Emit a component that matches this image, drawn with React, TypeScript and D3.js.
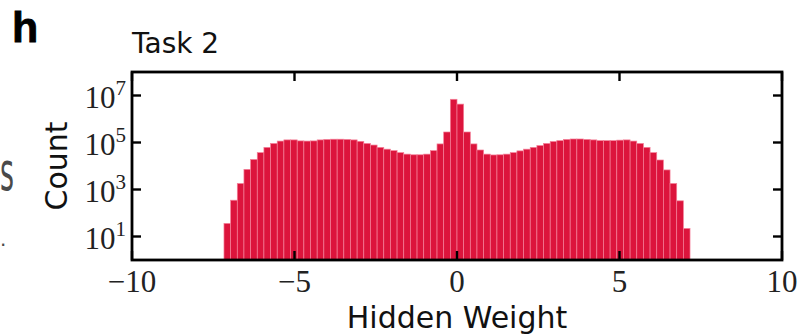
import React from "react";
import * as d3 from "d3";

// Histogram of hidden weights (Task 2): 70 bins spanning [-7.17, 7.17]
const binLo = -7.17;
const binHi = 7.17;
const counts: number[] = [
  36, 350, 1800, 7200, 19000, 37000, 62000, 91000, 115000, 129000,
  129000, 117000, 115000, 117000, 129000, 135000, 138000, 138000, 135000, 129000,
  112000, 91000, 78000, 62000, 52000, 45000, 37000, 32000, 30000, 30000,
  32000, 45000, 87000, 280000, 6900000, 4300000, 280000, 87000, 48000, 32000,
  29500, 30000, 32000, 37000, 44000, 52000, 62000, 74000, 91000, 110000,
  120000, 135000, 141000, 141000, 135000, 129000, 120000, 120000, 120000, 126000,
  129000, 115000, 91000, 62000, 37000, 18000, 6800, 1800, 330, 22,
];
const xTicks: number[] = [-10, -5, 0, 5, 10];
const xTickLabels: string[] = ["\u221210", "\u22125", "0", "5", "10"];
const yTicks: number[] = [1e1, 1e3, 1e5, 1e7];
const yTickExps: string[] = ["1", "3", "5", "7"];

const L = 132, R = 782, T = 72, B = 260;

export default function App() {
  const x = d3.scaleLinear().domain([-10, 10]).range([L, R]);
  const y = d3.scaleLog().domain([1, 1e8]).range([B, T]);
  const w = (binHi - binLo) / counts.length;
  const tickLen = 9;
  return (
    <svg width={800} height={336} style={{ position: "absolute", left: 0, top: 0, background: "#fff" }}>
      <rect x={0} y={0} width={800} height={336} fill="#fff" />
      {/* panel letter and neighbour remnants */}
      <text x={12} y={42} fontFamily="Liberation Sans, Arial, sans-serif" fontWeight="bold" fontSize={43} fill="#000" stroke="#000" strokeWidth={0.8}>h</text>
      <text x={0} y={190} fontFamily="DejaVu Sans, sans-serif" fontSize={54} fill="#4a4a4a" textLength={14} lengthAdjust="spacingAndGlyphs">s</text>
      <text x={0} y={246} fontFamily="DejaVu Sans, sans-serif" fontSize={20} fill="#4a4a4a">.</text>
      <text x={132} y={53} fontFamily="DejaVu Sans, sans-serif" fontSize={28} fill="#111">Task 2</text>
      {/* bars */}
      <g>
        {counts.map((c, i) => {
          const x0 = binLo + i * w;
          const x1 = x0 + w;
          return (
            <rect key={i} x={x(x0)} width={x(x1) - x(x0)} y={y(c)} height={y(1) - y(c)}
              fill="#dc143c" stroke="#f47f98" strokeWidth={0.7} />
          );
        })}
      </g>
      {/* ticks */}
      <g stroke="#000" strokeWidth={2.4}>
        {xTicks.map((t) => (
          <g key={"xt" + t}>
            <line x1={x(t)} x2={x(t)} y1={B} y2={B - tickLen} />
            <line x1={x(t)} x2={x(t)} y1={T} y2={T + tickLen} />
          </g>
        ))}
        {yTicks.map((t) => (
          <g key={"yt" + t}>
            <line x1={L} x2={L + tickLen} y1={y(t)} y2={y(t)} />
            <line x1={R} x2={R - tickLen} y1={y(t)} y2={y(t)} />
          </g>
        ))}
      </g>
      <rect x={L} y={T} width={R - L} height={B - T} fill="none" stroke="#000" strokeWidth={2.8} />
      {/* x tick labels */}
      {xTicks.map((t, i) => (
        <text key={"xl" + t} x={x(t)} y={292} textAnchor="middle"
          fontFamily="Liberation Serif, Times New Roman, serif" fontSize={31} fill="#222">{xTickLabels[i]}</text>
      ))}
      {/* y tick labels */}
      {yTicks.map((t, i) => (
        <text key={"yl" + t} x={126} y={y(t) + 12} textAnchor="end"
          fontFamily="Liberation Serif, Times New Roman, serif" fontSize={31} fill="#222">
          10<tspan fontSize={21} dy={-13}>{yTickExps[i]}</tspan>
        </text>
      ))}
      {/* axis labels */}
      <text x={457} y={328} textAnchor="middle" fontFamily="DejaVu Sans, sans-serif" fontSize={30} fill="#111">Hidden Weight</text>
      <text transform={`translate(67,166) rotate(-90)`} textAnchor="middle" fontFamily="DejaVu Sans, sans-serif" fontSize={30} fill="#111">Count</text>
    </svg>
  );
}
